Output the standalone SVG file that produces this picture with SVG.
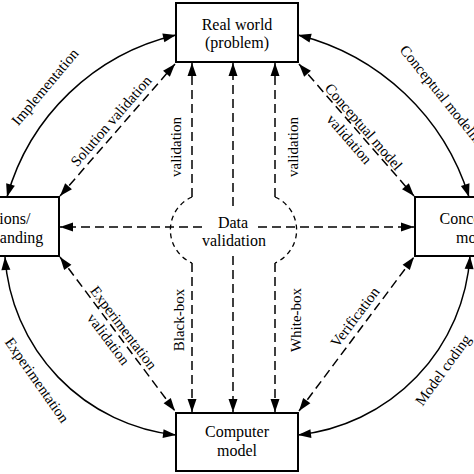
<svg xmlns="http://www.w3.org/2000/svg" width="474" height="474" viewBox="0 0 474 474">
<style>
  .box{fill:#fff;stroke:#000;stroke-width:2}
  .nt{font-family:"Liberation Serif","Times New Roman",serif;font-size:16px;fill:#000;text-anchor:middle}
  .lb{font-family:"Liberation Serif","Times New Roman",serif;font-size:15px;fill:#000;text-anchor:middle}
  .solid{fill:none;stroke:#000;stroke-width:1.5;marker-start:url(#ah);marker-end:url(#ah)}
  .dash{fill:none;stroke:#000;stroke-width:1.5;stroke-dasharray:9,5}
  .dd{marker-start:url(#ah);marker-end:url(#ah)}
  .de{marker-end:url(#ah)}
  .circ{fill:none;stroke:#000;stroke-width:1.3;stroke-dasharray:5,4}
</style>
<defs>
  <marker id="ah" markerUnits="userSpaceOnUse" viewBox="-14 -6 15 12" refX="0" refY="0" markerWidth="15" markerHeight="12" orient="auto-start-reverse">
    <path d="M0,0 L-13,-4.5 L-13,4.5 Z" fill="#000"/>
  </marker>
</defs>
<rect width="474" height="474" fill="#fff"/>
<g id="connectors">
  <path class="solid" d="M176,35 A230,230 0 0 0 7,197"/>
  <path class="solid" d="M298,35 A240,240 0 0 1 469,197"/>
  <path class="solid" d="M470,256 A193,193 0 0 1 298,435"/>
  <path class="solid" d="M5,257 A192,192 0 0 0 176,435"/>
  <path class="dash dd" d="M60,196 L175,64"/>
  <path class="dash dd" d="M299,64 L414,196"/>
  <path class="dash dd" d="M60,257 L175,411"/>
  <path class="dash dd" d="M299,411 L414,257"/>
  <path class="dash de" d="M192,197 L192,63"/>
  <path class="dash de" d="M192,263 L192,412"/>
  <path class="dash de" d="M233,206 L233,63"/>
  <path class="dash de" d="M233,256 L233,412"/>
  <path class="dash de" d="M275,197 L275,63"/>
  <path class="dash de" d="M275,263 L275,412"/>
  <path class="dash de" d="M202,227 L60,227"/>
  <path class="dash de" d="M258,227 L414,227"/>
  <path class="circ" d="M192,197 A36,36 0 0 0 192,263"/>
  <path class="circ" d="M275,197 A36,36 0 0 1 275,263"/>
</g>
<g id="labels">
  <text class="lb" transform="translate(45,87) rotate(-50)" y="5">Implementation</text>
  <text class="lb" transform="translate(111,121) rotate(-49)" y="5">Solution validation</text>
  <g transform="translate(356.5,133) rotate(49)">
    <text class="lb" y="-4.5">Conceptual model</text>
    <text class="lb" y="14.5">validation</text>
  </g>
  <text class="lb" transform="translate(403,47) rotate(51)" y="5" style="text-anchor:start">Conceptual modelling</text>
  <g transform="translate(116,333.5) rotate(53)">
    <text class="lb" y="-4.5">Experimentation</text>
    <text class="lb" y="14.5">validation</text>
  </g>
  <text class="lb" transform="translate(37,380) rotate(55)" y="5">Experimentation</text>
  <text class="lb" transform="translate(355,317) rotate(-53)" y="5">Verification</text>
  <text class="lb" transform="translate(443,370) rotate(-54)" y="5">Model coding</text>
  <text class="lb" transform="translate(176,147) rotate(-90)" y="5">validation</text>
  <text class="lb" transform="translate(293,147) rotate(-90)" y="5">validation</text>
  <text class="lb" transform="translate(179,320) rotate(-90)" y="5">Black-box</text>
  <text class="lb" transform="translate(296,320) rotate(-90)" y="5">White-box</text>
</g>
<g id="data-validation">
  <text class="nt" x="233" y="228">Data</text>
  <text class="nt" x="234" y="246">validation</text>
</g>
<g id="real-world">
  <rect class="box" x="176" y="3" width="122" height="59"/>
  <text class="nt" x="237" y="30">Real world</text>
  <text class="nt" x="237" y="48">(problem)</text>
</g>
<g id="solutions">
  <rect class="box" x="-63" y="197" width="122" height="59"/>
  <text class="nt" x="-2" y="224">Solutions/</text>
  <text class="nt" x="-2" y="243">understanding</text>
</g>
<g id="conceptual-model">
  <rect class="box" x="415" y="197" width="122" height="59"/>
  <text class="nt" x="476" y="224">Conceptual</text>
  <text class="nt" x="476" y="243">model</text>
</g>
<g id="computer-model">
  <rect class="box" x="176" y="413" width="122" height="58"/>
  <text class="nt" x="237" y="437">Computer</text>
  <text class="nt" x="237" y="456">model</text>
</g>
</svg>
